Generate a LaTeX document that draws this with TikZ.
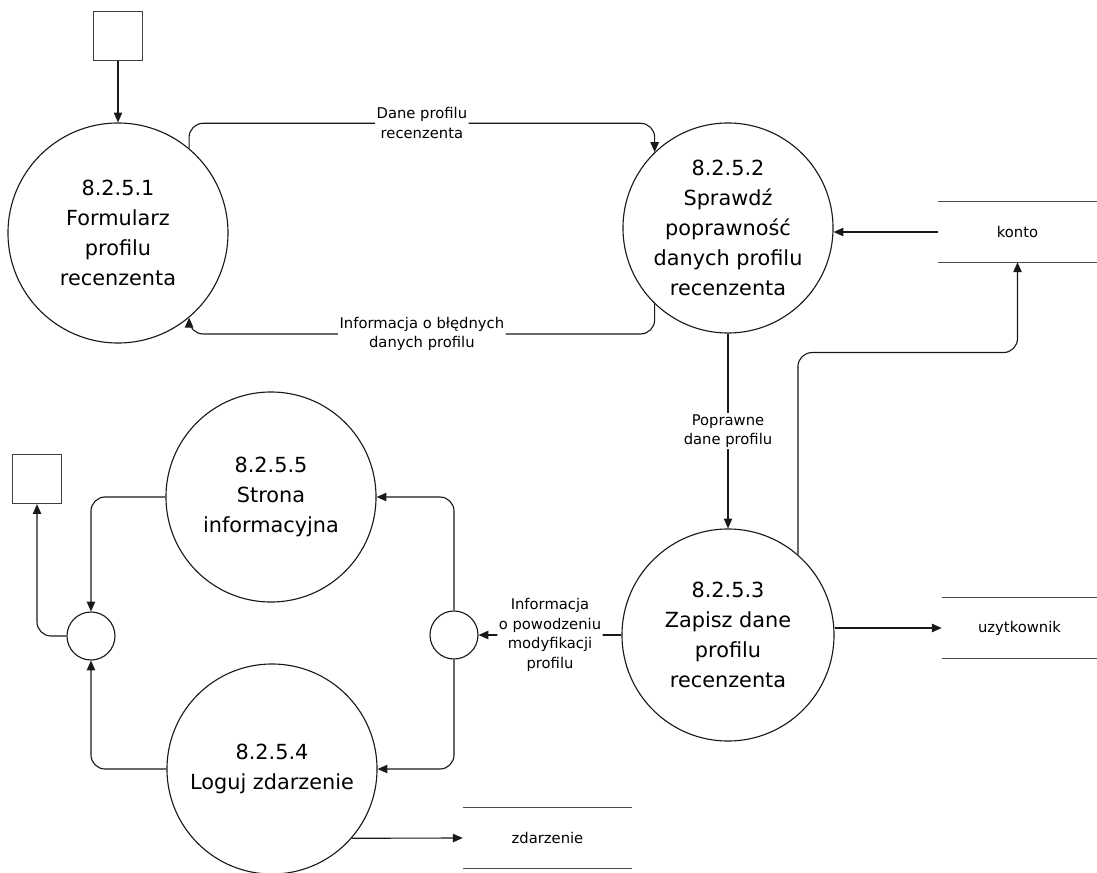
\documentclass[tikz,border=0pt]{standalone}
\usepackage{fontspec}
\setmainfont{DejaVu Sans}
\usetikzlibrary{arrows.meta}

\begin{document}
\begin{tikzpicture}[x=0.025cm,y=-0.025cm,>={Triangle[length=7pt,width=6pt]},
  proces/.style={draw=black!90,circle,line width=0.8pt,inner sep=0pt,align=center,font=\fontsize{14.8}{21.3}\selectfont},
  zewn/.style={draw=black!75,line width=1pt,minimum size=1.22cm,inner sep=0pt},
  wezel/.style={draw=black!90,circle,minimum size=1.2cm,inner sep=0pt,line width=0.8pt},
  magazyn/.style={minimum height=1.5cm,inner sep=0pt,font=\fontsize{10.5}{14}\selectfont},
  opis/.style={fill=white,align=center,inner sep=1pt,font=\fontsize{10.5}{14}\selectfont},
  przeplyw/.style={->,draw=black!90,line width=0.8pt,rounded corners=10pt}]
  \useasboundingbox (0,0) rectangle (1097,873);
  \node[zewn] (e1) at (118,36) {};
  \node[zewn] (e2) at (37,479) {};
  \node[proces,minimum size=5.5cm] (p1) at (118,233) {8.2.5.1\\Formularz\\profilu\\recenzenta};
  \node[proces,minimum size=5.25cm] (p2) at (728,228) {8.2.5.2\\Sprawdź\\poprawność\\danych profilu\\recenzenta};
  \node[proces,minimum size=5.3cm] (p3) at (728,635) {8.2.5.3\\Zapisz dane\\profilu\\recenzenta};
  \node[proces,minimum size=5.25cm] (p4) at (272,769) {8.2.5.4\\Loguj zdarzenie};
  \node[proces,minimum size=5.25cm] (p5) at (271,497) {8.2.5.5\\Strona\\informacyjna};
  \node[wezel] (w1) at (91,636) {};
  \node[wezel] (w2) at (454,635) {};
  \node[magazyn,minimum width=3.975cm] (k) at (1017.5,232) {konto};
  \node[magazyn,minimum width=3.875cm] (u) at (1019.5,628) {uzytkownik};
  \node[magazyn,minimum width=4.225cm] (z) at (547.5,838) {zdarzenie};
  \foreach \m in {k,u,z}
    \draw[black!70,line width=1pt] (\m.north west) -- (\m.north east) (\m.south west) -- (\m.south east);
  \draw[przeplyw] (e1) -- (p1);
  \draw[przeplyw] (p1.50) -- ++(0,-25) -| node[opis,pos=0.25] {Dane profilu\\recenzenta} (p2.134);
  \draw[przeplyw] (p2.226) -- ++(0,30) -| node[opis,pos=0.25] {Informacja o błędnych\\danych profilu} (p1.-50);
  \draw[przeplyw] (k.west) -- (k.west -| p2.east);
  \draw[przeplyw] (p2) -- node[opis] {Poprawne\\dane profilu} (p3);
  \draw[przeplyw] (p3.49) -- ++(0,-202) -| (k.south);
  \draw[przeplyw] (u.west -| p3.east) -- (u.west);
  \draw[przeplyw] (p3.west) -- node[opis] {Informacja\\o powodzeniu\\modyfikacji\\profilu} (w2.east);
  \draw[przeplyw] (w2.north) |- (p5.east);
  \draw[przeplyw] (w2.south) |- (p4.east);
  \draw[przeplyw] (p5.west) -| (w1.north);
  \draw[przeplyw] (p4.west) -| (w1.south);
  \draw[przeplyw] (w1.west) -| (e2.south);
  \draw[przeplyw] (p4.-41) -- (z.west);
\end{tikzpicture}
\end{document}
